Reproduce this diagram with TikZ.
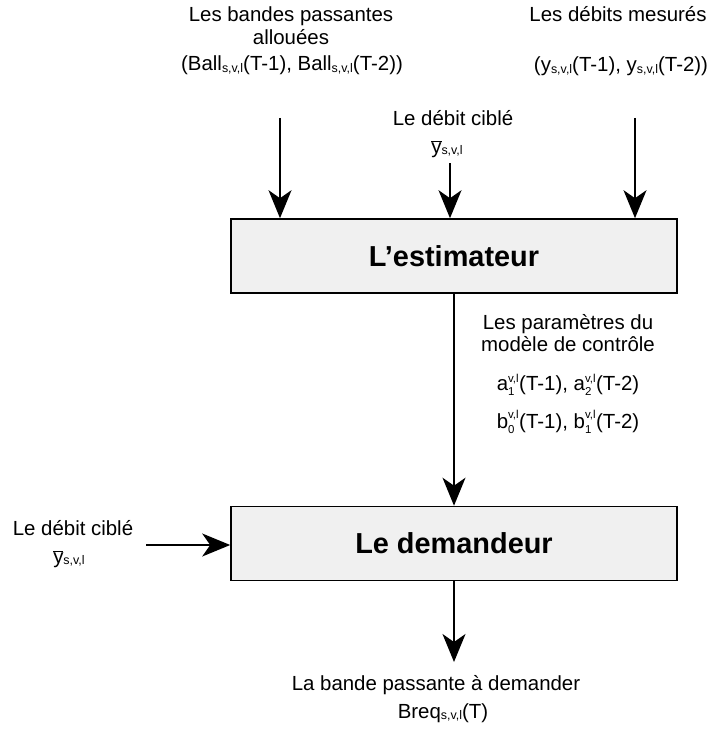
\documentclass[tikz,border=0pt]{standalone}
\usepackage{fontspec}
\setmainfont{Liberation Sans}
\usetikzlibrary{arrows.meta}
\newcommand\sbs[1]{\raisebox{-1.5bp}{\fontsize{12.5}{12.5}\selectfont #1}}
\newcommand\ybr{$\overline{\hbox{y}}$}
\newcommand\stk[3]{$\hbox{#1}^{\hbox{\fontsize{11.5}{11.5}\selectfont #2}}_{\hbox{\fontsize{11.5}{11.5}\selectfont #3}}$}
\tikzset{
  lbl/.style={anchor=base, inner sep=0pt, font=\fontsize{20.5}{24}\selectfont},
  blockbox/.style={draw=black, line width=1.6bp, fill=black!6, minimum width=446bp, minimum height=74bp, inner sep=0pt, font=\fontsize{29}{34}\bfseries\selectfont},
  arr/.style={line width=1.6bp, -{Stealth[length=28bp, width=23bp, inset=8bp]}}
}
\begin{document}
\begin{tikzpicture}[x=1bp, y=-1bp]
\useasboundingbox (0,0) rectangle (711,733);
% boxes
\node[blockbox] (est) at (454,256) {L\char"27 estimateur};
\node[blockbox] (dem) at (454,543.5) {Le demandeur};
% top-left labels
\node[lbl] (bw1) at (291,22) {Les bandes passantes};
\node[lbl] (bw2) at (291,45) {allouées};
\node[lbl] (bw3) at (292,71) {(Ball\sbs{s,v,l}(T-1), Ball\sbs{s,v,l}(T-2))};
% top-right labels
\node[lbl] (dm1) at (618,22) {Les débits mesurés};
\node[lbl] (dm2) at (621,72) {(y\sbs{s,v,l}(T-1), y\sbs{s,v,l}(T-2))};
% middle target
\node[lbl] (tg1) at (453,126) {Le débit ciblé};
\node[lbl] (tg2) at (447,153) {\ybr\sbs{s,v,l}};
% parameters
\node[lbl] (pa1) at (568,329) {Les paramètres du};
\node[lbl] (pa2) at (568,351) {modèle de contrôle};
\node[lbl] (pa3) at (568,390) {\stk{a}{v,l}{1}(T-1), \stk{a}{v,l}{2}(T-2)};
\node[lbl] (pa4) at (568,428) {\stk{b}{v,l}{0}(T-1), \stk{b}{v,l}{1}(T-2)};
% left target
\node[lbl] (lt1) at (73,535) {Le débit ciblé};
\node[lbl] (lt2) at (69,563) {\ybr\sbs{s,v,l}};
% bottom
\node[lbl] (bo1) at (436,690) {La bande passante à demander};
\node[lbl] (bo2) at (443,718) {Breq\sbs{s,v,l}(T)};
% free ends
\coordinate (c1) at (280,118);
\coordinate (c2) at (450,163);
\coordinate (c3) at (635,118);
\coordinate (c5) at (146,545);
\coordinate (c6) at (454,662);
% connectors
\draw[arr] (c1) -- (c1 |- est.north);
\draw[arr] (c2) -- (c2 |- est.north);
\draw[arr] (c3) -- (c3 |- est.north);
\draw[arr] (est.south) -- (dem.north);
\draw[arr] (c5) -- (c5 -| dem.west);
\draw[arr] (dem.south) -- (c6);
\end{tikzpicture}
\end{document}
